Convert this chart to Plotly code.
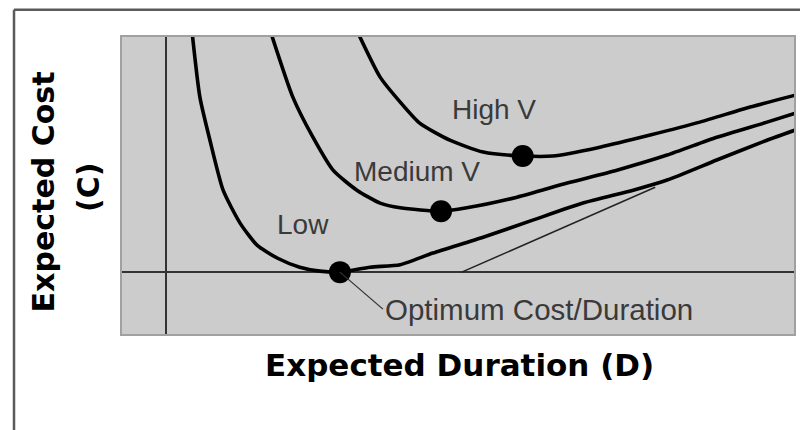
import plotly.graph_objects as go

# ---- data (Expected Duration D vs Expected Cost C) ----
low_x = [0.42, 0.54, 0.70, 0.91, 1.18, 1.45, 1.77, 2.13, 2.45, 2.77, 3.25, 3.73, 4.25, 5.05, 5.84, 6.64, 7.44, 7.98, 8.77, 9.57, 10.02]
low_y = [9.6, 7.07, 5.33, 3.31, 1.98, 1.09, 0.57, 0.20, 0.04, 0.0, 0.20, 0.30, 0.77, 1.41, 2.10, 2.79, 3.31, 3.72, 4.53, 5.33, 5.74]

med_x = [1.68, 2.02, 2.34, 2.66, 3.04, 3.41, 3.73, 4.38, 4.79, 5.59, 6.39, 7.18, 7.98, 8.77, 9.57, 10.02]
med_y = [9.6, 7.07, 5.45, 4.12, 3.31, 2.79, 2.60, 2.46, 2.60, 3.03, 3.60, 4.12, 4.73, 5.45, 6.06, 6.42]

high_x = [3.07, 3.41, 3.73, 4.04, 4.52, 5.05, 5.68, 6.16, 6.91, 7.71, 8.50, 9.30, 10.02]
high_y = [9.6, 7.88, 6.87, 6.02, 5.33, 4.85, 4.69, 4.69, 5.05, 5.54, 6.06, 6.67, 7.15]

# optimum points (minimum of each curve)
opt_x = [2.77, 4.38, 5.68]
opt_y = [0.0, 2.46, 4.69]

# tangent line to the low-variability curve
tan_x = [4.71, 7.79]
tan_y = [0.0, 3.43]

curve_labels = ["Low", "Medium V", "High V"]
label_x = [2.18, 3.99, 5.22]
label_y = [1.92, 4.06, 6.57]

x_title = "Expected Duration (D)"
y_title = "Expected Cost"
y_unit = "(C)"
opt_label = "Optimum Cost/Duration"

fig = go.Figure()

for xs, ys in [(low_x, low_y), (med_x, med_y), (high_x, high_y)]:
    fig.add_trace(go.Scatter(x=xs, y=ys, mode="lines",
                             line=dict(color="black", width=3.6, shape="spline", smoothing=0.6),
                             hoverinfo="skip", showlegend=False))

fig.add_trace(go.Scatter(x=tan_x, y=tan_y, mode="lines",
                         line=dict(color="#222222", width=1.5),
                         hoverinfo="skip", showlegend=False))

fig.add_trace(go.Scatter(x=opt_x, y=opt_y, mode="markers",
                         marker=dict(color="black", size=22),
                         hoverinfo="skip", showlegend=False))

lab_font = dict(family="Liberation Sans, Arial, sans-serif", size=28, color="#3a3a3a")
for t, lx, ly in zip(curve_labels, label_x, label_y):
    fig.add_annotation(x=lx, y=ly, text=t, showarrow=False, font=lab_font,
                       xanchor="center", yanchor="middle")

opt_font = dict(family="Liberation Sans, Arial, sans-serif", size=29.5, color="#3a3a3a")
fig.add_annotation(x=opt_x[0], y=opt_y[0], text=opt_label, showarrow=True,
                   arrowhead=0, arrowwidth=1.3, arrowcolor="#333333",
                   ax=43, ay=37, xanchor="left", yanchor="middle",
                   font=opt_font)

title_font = dict(family="DejaVu Sans, sans-serif", size=31, color="black", weight="bold")
fig.add_annotation(xref="paper", yref="paper", x=0.5015, y=-0.105, text=x_title,
                   showarrow=False, font=title_font, xanchor="center", yanchor="middle")
fig.add_annotation(xref="paper", yref="paper", x=-0.1176, y=0.480, text=y_title,
                   showarrow=False, font=dict(title_font, size=30), textangle=-90,
                   xanchor="center", yanchor="middle")
fig.add_annotation(xref="paper", yref="paper", x=-0.0491, y=0.4916, text=y_unit,
                   showarrow=False, font=dict(title_font, size=30), textangle=-90,
                   xanchor="center", yanchor="middle")

# outer frame (top and left edges)
fig.add_shape(type="line", xref="paper", yref="paper", x0=-0.1607, x1=1.03, y0=1.092, y1=1.092,
              line=dict(color="#5a5a5a", width=2.5))
fig.add_shape(type="line", xref="paper", yref="paper", x0=-0.1607, x1=-0.1607, y0=1.092, y1=-0.35,
              line=dict(color="#5a5a5a", width=2.5))

fig.update_xaxes(range=[-0.7, 10], showgrid=False, showticklabels=False, ticks="",
                 zeroline=True, zerolinecolor="#333333", zerolinewidth=1.5,
                 showline=True, mirror=True, linecolor="#a0a0a0", linewidth=1.5)
fig.update_yaxes(range=[-2.5, 9.5], showgrid=False, showticklabels=False, ticks="",
                 zeroline=True, zerolinecolor="#333333", zerolinewidth=1.5,
                 showline=True, mirror=True, linecolor="#a0a0a0", linewidth=1.5)

# page body has an 8px margin, so the figure is 8px smaller on each axis
fig.update_layout(width=800, height=422,
                  margin=dict(l=114, r=14, t=29, b=96),
                  plot_bgcolor="#cccccc", paper_bgcolor="white",
                  showlegend=False)

fig.write_html("out.html")
